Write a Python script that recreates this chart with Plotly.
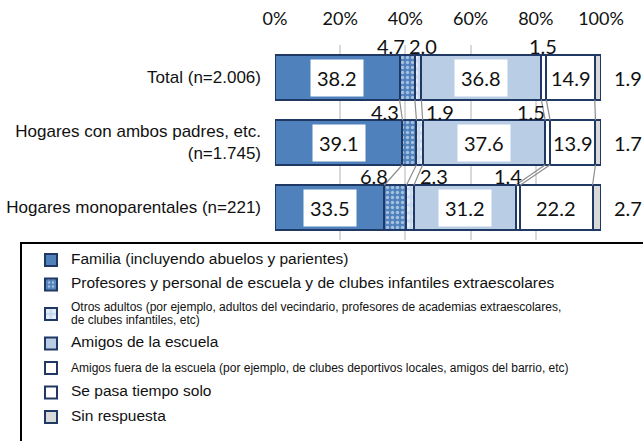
import plotly.graph_objects as go

# ---------------- data ----------------
categories = ["Total (n=2.006)",
              "Hogares con ambos padres, etc.<br>(n=1.745)",
              "Hogares monoparentales (n=221)"]
series_names = [
    "Familia (incluyendo abuelos y parientes)",
    "Profesores y personal de escuela y de clubes infantiles extraescolares",
    "Otros adultos (por ejemplo, adultos del vecindario, profesores de academias extraescolares,<br>de clubes infantiles, etc)",
    "Amigos de la escuela",
    "Amigos fuera de la escuela (por ejemplo, de clubes deportivos locales, amigos del barrio, etc)",
    "Se pasa tiempo solo",
    "Sin respuesta",
]
familia = [38.2, 39.1, 33.5]
profesores = [4.7, 4.3, 6.8]
otros_adultos = [2.0, 1.9, 2.3]
amigos_escuela = [36.8, 37.6, 31.2]
amigos_fuera = [1.5, 1.5, 1.4]
solo = [14.9, 13.9, 22.2]
sin_respuesta = [1.9, 1.7, 2.7]
x_ticks = [0, 20, 40, 60, 80, 100]
x_tick_labels = ["0%", "20%", "40%", "60%", "80%", "100%"]

series_values = [familia, profesores, otros_adultos, amigos_escuela,
                 amigos_fuera, solo, sin_respuesta]

# ---------------- styles ----------------
NAVY = "#203864"
fills = ["#4F81BD", "#4F81BD", "#C9DAF0", "#B9CDE5", "#FFFFFF", "#FFFFFF", "#D9D9D9"]
patterns = [None,
            dict(shape=".", bgcolor="#4F81BD", fgcolor="#FFFFFF", size=5, solidity=0.35),
            dict(shape=".", bgcolor="#C9DAF0", fgcolor="#FFFFFF", size=8, solidity=0.45),
            None, None, None, None]
legend_sizes = [15.5, 15.5, 12, 15.5, 12, 15.5, 15.5]
# label style per series: inside (boxed), above, right
label_mode = ["inside", "above", "above", "inside", "above", "inside", "right"]
label_box = [True, False, False, True, False, False, False]
# horizontal shifts (px) for labels placed above bars, per series / bar
above_shift = {1: [-16, -24, -21], 2: [5, 20, 24], 4: [-1, -17, -10]}
above_yshift = [9, 8, 9]

BAR_W = 0.684
ypos = list(range(len(categories)))
X_MAX = 100

fig = go.Figure()
for k, (name, vals) in enumerate(zip(series_names, series_values)):
    marker = dict(color=fills[k], line=dict(color=NAVY, width=2))
    if patterns[k]:
        marker["pattern"] = patterns[k]
    fig.add_trace(go.Bar(
        y=ypos, x=vals, orientation="h", width=BAR_W,
        name=f"<span style='font-size:{legend_sizes[k]}px'>{name}</span>",
        legendgroup=str(k), marker=marker, hoverinfo="skip",
    ))

# cumulative boundaries
cum = []
for i in range(len(categories)):
    s, row = 0.0, []
    for vals in series_values:
        s += vals[i]
        row.append(s)
    cum.append(row)

# series lines connecting boundaries between adjacent bars
lx, ly = [], []
for i in range(len(categories) - 1):
    for j in range(len(series_values) - 1):
        lx += [cum[i][j], cum[i + 1][j], None]
        ly += [i + BAR_W / 2, i + 1 - BAR_W / 2, None]
fig.add_trace(go.Scatter(x=lx, y=ly, mode="lines", showlegend=False,
                         line=dict(color="#8C8C8C", width=1.2), hoverinfo="skip"))

# data labels
LABEL_FONT = dict(family="Lato", size=20, color="#111111")
annotations = []
for k, vals in enumerate(series_values):
    for i, v in enumerate(vals):
        start = cum[i][k] - v
        mid = start + v / 2
        txt = f"{v:.1f}"
        if label_mode[k] == "inside":
            annotations.append(dict(
                x=mid, y=i, text=txt, showarrow=False, font=LABEL_FONT,
                bgcolor="#FFFFFF" if label_box[k] else "rgba(0,0,0,0)",
                borderpad=6, xanchor="center", yanchor="middle"))
        elif label_mode[k] == "above":
            annotations.append(dict(
                x=mid, y=i - BAR_W / 2, text=txt, showarrow=False, font=LABEL_FONT,
                xanchor="center", yanchor="middle",
                xshift=above_shift[k][i], yshift=above_yshift[i]))
        else:
            annotations.append(dict(
                x=min(cum[i][k], X_MAX - 1e-6), y=i, text=txt, showarrow=False,
                font=LABEL_FONT, xanchor="left", yanchor="middle", xshift=11))

PLOT_T, PLOT_B = 45, 240
fig.update_layout(
    width=643, height=441,
    margin=dict(l=275, r=42, t=PLOT_T, b=441 - PLOT_B, pad=0, autoexpand=False),
    paper_bgcolor="#FFFFFF", plot_bgcolor="#FFFFFF",
    barmode="stack", bargap=0,
    annotations=annotations,
    xaxis=dict(range=[0, X_MAX], side="top", tickvals=x_ticks, ticktext=x_tick_labels,
               showgrid=True, gridcolor="#D9D9D9", gridwidth=1.5,
               zeroline=False, showline=False, ticks="",
               tickfont=dict(family="Lato", size=18, color="#111111"),
               ticklabelstandoff=15, fixedrange=True, automargin=False),
    yaxis=dict(range=[2.5, -0.5], tickvals=ypos, ticktext=categories,
               showgrid=False, zeroline=False, showline=False, ticks="",
               tickfont=dict(family="Liberation Sans", size=17, color="#111111"),
               ticklabelstandoff=13, fixedrange=True, automargin=False),
    legend=dict(xref="container", yref="container",
                x=31 / 643, y=1 - 245.5 / 441, xanchor="left", yanchor="top",
                font=dict(family="Liberation Sans", size=10, color="#111111"),
                traceorder="grouped", tracegroupgap=5.5,
                bgcolor="rgba(0,0,0,0)", borderwidth=0),
    shapes=[dict(type="rect", xref="paper", yref="paper",
                 x0=(21 - 275) / 326, x1=1.6,
                 y0=-1.5, y1=(PLOT_B - 243) / (PLOT_B - PLOT_T),
                 line=dict(color="#000000", width=2), fillcolor="rgba(0,0,0,0)")],
    showlegend=True,
)

fig.write_html("out.html", config={"displayModeBar": False},
               post_script="document.body.style.margin='0px';")
